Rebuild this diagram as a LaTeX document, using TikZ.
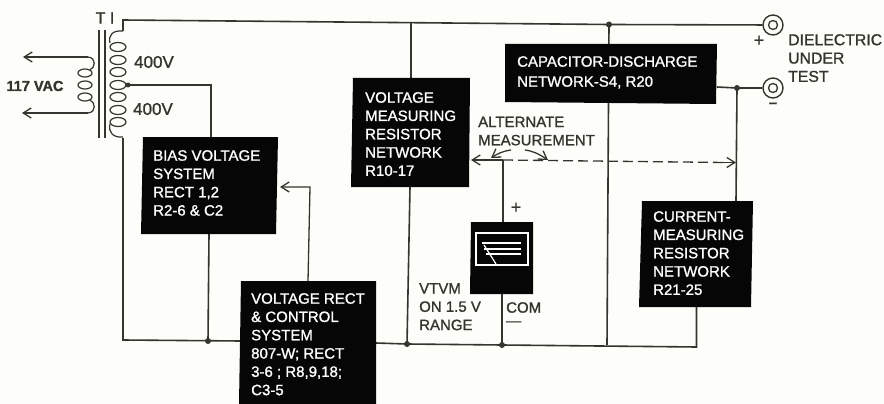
\documentclass[tikz,border=0pt]{standalone}
\usepackage{fontspec}
\setmainfont{Liberation Sans}[RawFeature={embolden=1.2}]
\definecolor{ink}{HTML}{35352D}
\definecolor{blk}{HTML}{060606}
\definecolor{paper}{HTML}{FDFDFA}
\usetikzlibrary{arrows.meta}
\tikzset{
  wire/.style={draw=ink,line width=1.6pt},
  dashwire/.style={draw=ink,line width=1.3pt,dash pattern=on 10pt off 5pt},
  tipline/.style={draw=ink,line width=1.3pt,-{Straight Barb[length=8pt,width=10pt]}},
  boxtext/.style={anchor=north west,inner sep=0pt,text=white,align=left,font=\fontsize{15}{18.3}\selectfont},
  lab/.style={inner sep=0pt,text=ink,align=left,font=\fontsize{15}{18.3}\selectfont},
  sign/.style={inner sep=0pt,text=ink},
  biglab/.style={lab,font=\fontsize{17}{18}\selectfont},
  dot/.style={circle,fill=ink,inner sep=0pt,minimum size=6pt},
  coil/.style={draw=ink,line width=1.2pt},
  term/.style={circle,draw=ink,line width=1.4pt,fill=paper,inner sep=0pt,minimum size=20pt},
  terminner/.style={circle,draw=ink,line width=1.3pt,inner sep=0pt,minimum size=9pt}
}
\begin{document}
\begin{tikzpicture}[x=1pt,y=-1pt]
\useasboundingbox[fill=paper] (0,0) rectangle (884,404);
% coordinates
\coordinate (railL) at (123,20);
\coordinate (secTop) at (123,31);
\coordinate (secBot) at (123,138);
\coordinate (botL) at (123,340);
\coordinate (tapEnd) at (211,85);
\node[dot] (jA) at (609,24.5) {};
\node[dot] (jB) at (737,88) {};
\node[dot] (jC) at (208,341) {};
\node[dot] (jD) at (407,344) {};
\node[dot] (jE) at (502,345) {};
\node[dot,minimum size=5pt] (jF) at (128,85) {};
\node[term] (tp) at (773,25) {};
\node[terminner] (tpi) at (773,25) {};
\node[term] (tn) at (773,88) {};
\node[terminner] (tni) at (773,88) {};
\coordinate (vmT) at (411,78);
\coordinate (vmB) at (410,187);
\coordinate (rail410) at (411,22.5);
\coordinate (curB) at (696.5,307);
\draw[wire] (secTop) -- (railL) -- (jA.center) -- (tp);
\draw[wire] (rail410) -- (vmT);
\draw[wire] (vmB) -- (jD.center);
\draw[wire] (jA.center) -- (607,345);
\draw[wire] (717,87) -- (jB.center) -- (tn);
\draw[wire] (jB.center) -- (736,201);
\draw[wire] (secBot) -- (botL) -- (241,341);
\draw[wire] (376,343) -- (jD.center) -- (jE.center) -- (696.5,347) -- (curB);
\draw[wire] (jF.center) -- (tapEnd) -- (211,137);
\draw[wire] (209,234) -- (jC.center);
\draw[wire] (503,222) -- (503,160);
\draw[wire] (502,294) -- (jE.center);
\draw[tipline] (503,160) -- (471,160);
\draw[dashwire] (503,160) -- (726,162.5);
\draw[tipline] (722,162.5) -- (736,162.5);
\draw[tipline] (308,281) -- (310,187) -- (280,187);
\draw[tipline] (88,57) -- (23,57);
\draw[tipline] (88,113) -- (22,113);
% transformer
\draw[draw=ink,line width=1.6pt] (99,30) -- (99,138) (105,30) -- (105,138);
\draw[coil] (88,57) .. controls (97,58) and (95,68) .. (90,70);
\draw[coil] (88,113) .. controls (97,112) and (95,102) .. (90,100);
\foreach \y in {73,85,97}
  \draw[coil] (85,\y) ellipse [x radius=7,y radius=4];
\draw[coil] (123,31) .. controls (113,30) and (108,35) .. (110,43);
\draw[coil] (123,137) .. controls (113,138) and (108,132) .. (110,124);
\foreach \y in {47,60,72,85,97,110,122}
  \draw[coil] (118,\y) ellipse [x radius=8,y radius=4.5];
\node[lab,font=\fontsize{16}{18}\selectfont] (t1) at (105,18) {T I};
\node[biglab] (v1) at (154,62) {400V};
\node[biglab] (v2) at (153,109) {400V};
\node[lab,font=\fontsize{14.5}{15}\selectfont\bfseries] (vac) at (35,86) {117 VAC};
% black boxes
\fill[blk] (505,44) -- (717,44) -- (716,104) -- (505,102) -- cycle;
\node[boxtext,font=\fontsize{15}{20}\selectfont] (cap) at (517,56) {CAPACITOR-DISCHARGE\\NETWORK-S4, R20};
\fill[blk] (353,78) -- (470,78) -- (469,187) -- (351,187) -- cycle;
\node[boxtext] (vm) at (365,92) {VOLTAGE\\MEASURING\\RESISTOR\\NETWORK\\R10-17};
\fill[blk] (143,137) -- (278,137) -- (276,234) -- (141,234) -- cycle;
\node[boxtext] (bias) at (153,150) {BIAS VOLTAGE\\SYSTEM\\RECT 1,2\\R2-6 \& C2};
\fill[blk] (241,281) -- (376,281) -- (376,404) -- (239,404) -- cycle;
\node[boxtext] (vr) at (251,293) {VOLTAGE RECT\\\& CONTROL\\SYSTEM\\807-W; RECT\\3-6 ; R8,9,18;\\C3-5};
\fill[blk] (642,201) -- (753,201) -- (751,307) -- (639,307) -- cycle;
\node[boxtext] (cur) at (653,211) {CURRENT-\\MEASURING\\RESISTOR\\NETWORK\\R21-25};
% VTVM
\fill[blk] (471,222) -- (533,222) -- (533,294) -- (470,294) -- cycle;
\draw[white,line width=1.2pt] (476,233) rectangle (528,265);
\draw[white,line width=1.2pt] (482,243) -- (521,243) (484,249) -- (521,249) (486,254) -- (521,254);
\draw[white,line width=1.2pt] (484,245) -- (496,264);
% labels
\node[lab,anchor=north west] (alt) at (478,116.5) {ALTERNATE\\MEASUREMENT};
\draw[tipline] (511,150) .. controls (503,151) and (497,154) .. (491,158);
\draw[tipline] (525,150) .. controls (533,151) and (539,154) .. (548,160);
\node[lab,anchor=north west] (vt) at (419,283) {VTVM\\ON 1.5 V\\RANGE};
\node[lab,anchor=north west,font=\fontsize{15}{13}\selectfont] (com) at (506,302) {COM\\—};
\node[sign,font=\fontsize{18}{18}\selectfont] (plus) at (516,208) {+};
\node[sign,font=\fontsize{18}{18}\selectfont] (plus2) at (759,41) {+};
\node[sign,font=\fontsize{15}{15}\selectfont\bfseries] (minus2) at (773,105) {–};
\node[lab,anchor=north west,font=\fontsize{15.8}{18.3}\selectfont] (die) at (788,34) {DIELECTRIC\\UNDER\\TEST};
\end{tikzpicture}
\end{document}
